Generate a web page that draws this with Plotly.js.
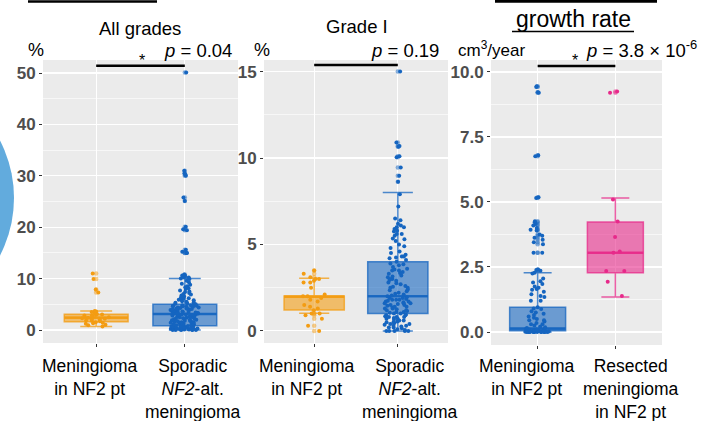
<!DOCTYPE html>
<html><head><meta charset="utf-8">
<script src="https://cdn.plot.ly/plotly-3.0.1.min.js"></script>
<style>html,body{margin:0;padding:0;background:#fff}</style>
</head><body><div id="chart" style="width:707px;height:421px"></div>
<script>
// ---------- categories ----------
const catsAll = ['Meningioma<br>in NF2 pt', 'Sporadic<br><i>NF2</i>-alt.<br>meningioma'];
const catsG1 = ['Meningioma<br>in NF2 pt', 'Sporadic<br><i>NF2</i>-alt.<br>meningioma'];
const catsGr = ['Meningioma<br>in NF2 pt', 'Resected<br>meningioma<br>in NF2 pt'];

// ---------- panel 1: All grades (%) ----------
const allNF2 = [11.0, 9.9, 7.9, 7.3, 3.7, 3.6, 3.5, 3.3, 3.1, 3.0, 2.9, 2.8, 2.8, 2.6, 2.5, 2.4, 2.3, 2.2, 2.1, 2.0, 1.9, 1.8, 1.7, 1.5, 1.4, 1.3, 1.2, 1.0, 0.9, 0.7];
const allSporadic = [50.1, 31.0, 30.5, 30.2, 30.0, 25.8, 25.1, 20.1, 19.6, 19.4, 15.6, 15.2, 15.0, 15.0, 10.8, 10.6, 10.5, 10.3, 10.2,
  0.0, 0.0, 0.0, 0.0, 0.05, 0.1, 0.1, 0.15, 0.2, 0.2, 0.25, 0.3, 0.3, 0.35, 0.4, 0.4, 0.45, 0.5, 0.5, 0.5, 0.55, 0.6, 0.6, 0.65, 0.7, 0.7, 0.75, 0.8, 0.8, 0.8, 0.1, 0.3, 0.6, 0.0, 0.2,
  0.9, 1.0, 1.0, 1.1, 1.2, 1.2, 1.3, 1.4, 1.5, 1.5, 1.6, 1.7, 1.8, 1.9, 2.0, 2.0, 2.1, 2.2, 2.3, 2.4, 2.5, 2.5, 2.6, 2.7, 2.8, 2.9, 3.0, 3.0, 1.1, 1.4, 1.8, 2.2, 2.6, 2.9, 1.6,
  3.1, 3.2, 3.3, 3.3, 3.4, 3.5, 3.5, 3.6, 3.7, 3.8, 3.8, 3.9, 4.0, 4.0, 4.1, 4.2, 4.2, 4.3, 4.4, 4.5, 4.5, 4.6, 4.7, 4.8, 4.8, 4.9, 5.0, 3.2, 3.6, 4.1, 4.4, 4.7, 3.4, 3.9, 4.6,
  5.1, 5.2, 5.3, 5.5, 5.6, 5.8, 6.0, 6.1, 6.3, 6.5, 6.7, 6.9, 7.0, 7.2, 7.5, 7.7, 8.0, 8.3, 8.5, 8.8, 9.0, 9.3, 9.6, 9.9, 10.0, 5.4, 6.2, 7.4, 8.1, 5.9];
const allQ1 = [1.6, 0.85], allMed = [2.4, 3.1], allQ3 = [3.05, 5.0], allLo = [0.7, 0.0], allHi = [3.7, 10.0];

// ---------- panel 2: Grade I (%) ----------
const g1NF2 = [3.5, 3.3, 3.1, 3.0, 3.0, 2.9, 2.8, 2.8, 2.5, 2.1, 2.0, 2.0, 1.9, 1.8, 1.7, 1.5, 1.4, 1.3, 1.2, 1.0, 1.0, 0.9, 0.7, 0.3, 0.0];
const g1Sporadic = [15.0, 10.9, 10.7, 10.65, 10.1, 10.05, 9.45, 8.98, 8.63,
  0, 0, 0, 0, 0, 0.05, 0.1, 0.15, 0.2, 0.25, 0.3, 0.3, 0.35, 0.4, 0.45, 0.5, 0.5, 0.55, 0.6, 0.65, 0.7, 0.7, 0.75, 0.8, 0.8, 0.85, 0.9, 0.9, 0.95, 0.2, 0.4, 0.6, 0.8,
  1.0, 1.0, 1.05, 1.1, 1.1, 1.15, 1.2, 1.25, 1.3, 1.3, 1.35, 1.4, 1.45, 1.5, 1.5, 1.55, 1.6, 1.6, 1.65, 1.7, 1.7, 1.75, 1.8, 1.8, 1.85, 1.9, 1.9, 1.95, 2.0, 1.2, 1.4, 1.6, 1.8,
  2.05, 2.1, 2.15, 2.2, 2.3, 2.35, 2.4, 2.5, 2.55, 2.6, 2.7, 2.75, 2.8, 2.9, 2.95, 3.0, 3.1, 3.15, 3.2, 3.3, 3.35, 3.4, 3.5, 3.55, 3.6, 3.7, 3.8, 3.85, 3.9, 4.0, 2.5, 3.0, 3.5,
  4.1, 4.2, 4.25, 4.3, 4.3, 4.5, 4.6, 4.8, 5.0, 5.2, 5.3, 5.35, 5.5, 5.6, 5.75, 5.8, 5.9, 6.0, 6.1, 6.2, 6.4, 6.5, 7.2, 7.9, 4.4, 4.9, 5.6, 6.0];
const g1Q1 = [1.21, 1.0], g1Med = [1.98, 2.0], g1Q3 = [2.02, 4.0], g1Lo = [1.02, 0.0], g1Hi = [3.05, 8.0];

// ---------- panel 3: growth rate (cm3/year) ----------
const grNF2 = [9.45, 9.42, 9.22, 9.2, 6.8, 6.76, 5.18, 5.15, 4.26, 4.22, 4.15, 4.1, 4.0, 3.93, 3.9, 3.75, 3.7, 3.62, 3.55, 3.45, 3.37, 3.05, 3.05, 2.4, 2.38, 2.36,
  2.28, 2.25, 2.06, 1.95, 1.9, 1.85, 1.75, 1.7, 1.65, 1.62, 1.55, 1.45, 1.38, 1.35, 1.2, 1.2, 0.95, 0.9, 0.88, 0.8, 0.75, 0.7, 0.65, 0.6, 0.55, 0.5, 0.45, 0.45, 0.4, 0.35, 0.3, 0.3, 0.25, 0.2, 0.18, 0.15, 0.13, 0.12, 0.1, 0.1, 0.08, 0.07, 0.06, 0.05, 0.05, 0.04, 0.04, 0.03, 0.03, 0.02, 0.02, 0.02, 0.01, 0.01, 0.01, 0, 0, 0, 0, 0, 0, 0, 0, 0, 0, 0, 0];
const grResected = [9.25, 9.2, 5.1, 4.25, 3.65, 3.1, 3.05, 2.35, 2.35, 1.93, 1.38];
const grQ1 = [0.05, 2.28], grMed = [0.13, 3.05], grQ3 = [0.95, 4.23], grLo = [0.0, 1.35], grHi = [2.28, 5.15];

// ---------- colours ----------
const ORANGE = '#F39C12', BLUE = '#1565C0', PINK = '#E7298A';
function rgba(hex, a) {
  const n = parseInt(hex.slice(1), 16);
  return `rgba(${(n >> 16) & 255},${(n >> 8) & 255},${n & 255},${a})`;
}

const BOXW = 0.72;
const traces = [];
function addGroup(xa, ya, cat, vals, q1, med, q3, lo, hi, col) {
  traces.push({type: 'box', xaxis: xa, yaxis: ya, x: [cat], q1: [q1], median: [med], q3: [q3],
    lowerfence: [lo], upperfence: [hi], boxpoints: false, width: BOXW, whiskerwidth: 0.5,
    fillcolor: rgba(col, 0.6), line: {color: rgba(col, 0.75), width: 1.5}, hoverinfo: 'skip'});
  traces.push({type: 'box', xaxis: xa, yaxis: ya, x: [cat], q1: [med], median: [med], q3: [med],
    lowerfence: [med], upperfence: [med], boxpoints: false, width: BOXW, whiskerwidth: 0,
    fillcolor: 'rgba(0,0,0,0)', line: {color: rgba(col, 0.85), width: 2.6}, hoverinfo: 'skip'});
  const outl = vals.filter(v => v > hi || v < lo);
  traces.push({type: 'box', xaxis: xa, yaxis: ya, x0: cat, y: outl, boxpoints: 'all', jitter: 0, pointpos: 0,
    width: BOXW, fillcolor: 'rgba(0,0,0,0)', line: {width: 0, color: 'rgba(0,0,0,0)'},
    marker: {size: 4.5, color: rgba(col, 0.5)}, hoverinfo: 'skip'});
  traces.push({type: 'box', xaxis: xa, yaxis: ya, x0: cat, y: vals, boxpoints: 'all', jitter: 0.45, pointpos: 0,
    width: BOXW, fillcolor: 'rgba(0,0,0,0)', line: {width: 0, color: 'rgba(0,0,0,0)'},
    marker: {size: 4, color: col}, hoverinfo: 'skip'});
}
addGroup('x', 'y', catsAll[0], allNF2, allQ1[0], allMed[0], allQ3[0], allLo[0], allHi[0], ORANGE);
addGroup('x', 'y', catsAll[1], allSporadic, allQ1[1], allMed[1], allQ3[1], allLo[1], allHi[1], BLUE);
addGroup('x2', 'y2', catsG1[0], g1NF2, g1Q1[0], g1Med[0], g1Q3[0], g1Lo[0], g1Hi[0], ORANGE);
addGroup('x2', 'y2', catsG1[1], g1Sporadic, g1Q1[1], g1Med[1], g1Q3[1], g1Lo[1], g1Hi[1], BLUE);
addGroup('x3', 'y3', catsGr[0], grNF2, grQ1[0], grMed[0], grQ3[0], grLo[0], grHi[0], BLUE);
addGroup('x3', 'y3', catsGr[1], grResected, grQ1[1], grMed[1], grQ3[1], grLo[1], grHi[1], PINK);

// ---------- layout ----------
const W = 707, H = 421;
const px = v => v / W, py = v => 1 - v / H;
const FONT = 'Liberation Sans, Arial, sans-serif';

function xAxis(cats, x0, x1, anchor) {
  return {domain: [px(x0), px(x1)], anchor: anchor, type: 'category', categoryarray: cats, categoryorder: 'array',
    range: [-0.6, 1.6], showgrid: true, gridcolor: '#FFFFFF', gridwidth: 1.2, zeroline: false, showline: false,
    ticks: 'outside', ticklen: 3, tickcolor: '#333333', tickwidth: 1, showticklabels: false, fixedrange: true};
}
function yAxis(range, dtick, minorDtick, fmt, y0, y1, anchor) {
  return {domain: [py(y1), py(y0)], anchor: anchor, range: range, dtick: dtick, tick0: 0, tickformat: fmt,
    showgrid: true, gridcolor: '#FFFFFF', gridwidth: 1.2, zeroline: false, showline: false,
    minor: {dtick: minorDtick, tick0: 0, showgrid: true, gridcolor: '#FFFFFF', gridwidth: 0.6},
    ticks: 'outside', ticklen: 3, tickcolor: '#333333', tickwidth: 1,
    tickfont: {family: FONT, size: 17, color: '#4D4D4D', weight: 'bold'}, fixedrange: true};
}

const ann = (text, x, y, opts = {}) => Object.assign({text: text, x: px(x), y: py(y), xref: 'paper', yref: 'paper',
  showarrow: false, xanchor: 'center', yanchor: 'middle', font: {family: FONT, size: 18.5, color: '#000000'}}, opts);

// category labels under each panel (tied to the category axis positions)
const catLabel = (xref, idx, text, shift) => ({text: text, xref: xref, x: idx, yref: 'paper', y: py(354),
  xanchor: 'center', yanchor: 'top', xshift: shift, showarrow: false, align: 'center',
  font: {family: FONT, size: 17.5, color: '#000000'}});

const layout = {
  width: W, height: H, margin: {l: 0, r: 0, t: 0, b: 0}, showlegend: false,
  paper_bgcolor: '#FFFFFF', plot_bgcolor: '#EBEBEB', boxmode: 'overlay',
  xaxis: xAxis(catsAll, 43, 238, 'y'),
  yaxis: yAxis([-2.53, 52.53], 10, 5, '', 60, 343, 'x'),
  xaxis2: xAxis(catsG1, 264, 448, 'y2'),
  yaxis2: yAxis([-0.7, 15.67], 5, 2.5, '', 60, 343, 'x2'),
  xaxis3: xAxis(catsGr, 491, 662, 'y3'),
  yaxis3: yAxis([-0.5, 10.46], 2.5, 1.25, '.1f', 60, 345, 'x3'),
  annotations: [
    ann('All grades', 140, 28),
    ann('%', 36, 50, {font: {family: FONT, size: 18, color: '#000'}}),
    ann('<i>p</i> = 0.04', 234, 51, {xanchor: 'right'}),
    ann('*', 142, 60, {font: {family: FONT, size: 16, color: '#000'}}),
    ann('Grade I', 357, 27),
    ann('%', 262, 50, {font: {family: FONT, size: 18, color: '#000'}}),
    ann('<i>p</i> = 0.19', 441, 51, {xanchor: 'right'}),
    ann('growth rate', 573, 19, {font: {family: FONT, size: 23, color: '#000'}}),
    ann('cm<sup>3</sup>/year', 456, 49, {xanchor: 'left', font: {family: FONT, size: 17, color: '#000'}}),
    ann('<i>p</i> = 3.8 × 10<sup>-6</sup>', 699, 49, {xanchor: 'right'}),
    ann('*', 575, 60, {font: {family: FONT, size: 16, color: '#000'}}),
    catLabel('x', 0, catsAll[0], -6), catLabel('x', 1, catsAll[1], 8),
    catLabel('x2', 0, catsG1[0], -7), catLabel('x2', 1, catsG1[1], 12),
    catLabel('x3', 0, catsGr[0], -11), catLabel('x3', 1, catsGr[1], 16)
  ],
  shapes: [
    {type: 'circle', xref: 'paper', yref: 'paper', x0: px(-236), x1: px(14), y0: py(323), y1: py(73),
      fillcolor: '#62ABDD', line: {width: 0}, layer: 'below'},
    {type: 'line', xref: 'paper', yref: 'paper', x0: px(28), x1: px(157), y0: py(1.5), y1: py(1.5), line: {color: '#000', width: 2.5}},
    {type: 'line', xref: 'paper', yref: 'paper', x0: px(495), x1: px(657), y0: py(1.2), y1: py(1.2), line: {color: '#000', width: 3}},
    {type: 'line', xref: 'paper', yref: 'paper', x0: px(512), x1: px(634), y0: py(31.5), y1: py(31.5), line: {color: '#000', width: 1.5}},
    {type: 'line', xref: 'x', yref: 'y', x0: 0, x1: 1, y0: 51.4, y1: 51.4, line: {color: '#000', width: 2.5}},
    {type: 'line', xref: 'x2', yref: 'y2', x0: 0, x1: 1, y0: 15.38, y1: 15.38, line: {color: '#000', width: 2.5}},
    {type: 'line', xref: 'x3', yref: 'y3', x0: 0, x1: 1, y0: 10.23, y1: 10.23, line: {color: '#000', width: 2.5}}
  ]
};

Plotly.newPlot('chart', traces, layout, {staticPlot: true, displayModeBar: false});
</script>
</body></html>
